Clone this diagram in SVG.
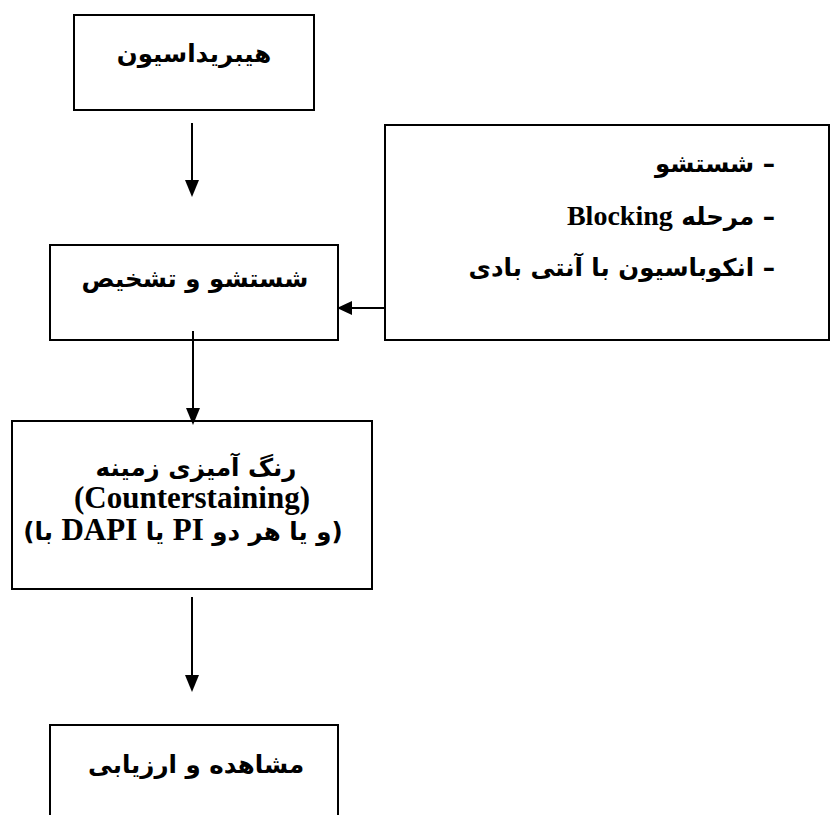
<svg xmlns="http://www.w3.org/2000/svg" width="831" height="815" viewBox="0 0 831 815">
<style>
.box{fill:#fff;stroke:#000;stroke-width:2}
.fa{font-family:"DejaVu Sans","Noto Sans",sans-serif;font-weight:bold;font-size:24.5px;fill:#000}
.en{font-family:"Liberation Serif","Times New Roman",serif;font-weight:bold;fill:#000}
.ln{stroke:#000;stroke-width:2;fill:none}
.ah{fill:#000}
</style>
<rect width="831" height="815" fill="#fff"/>
<g id="n1">
<rect class="box" x="74" y="15" width="240" height="95"/>
<text class="fa" x="194" y="62" text-anchor="middle">هیبریداسیون</text>
</g>
<g id="n2">
<rect class="box" x="50" y="245" width="288" height="95"/>
<text class="fa" x="195" y="287" text-anchor="middle">شستشو و تشخیص</text>
</g>
<g id="n3">
<rect class="box" x="385" y="125" width="444" height="215"/>
<text class="fa" x="775" y="172" direction="rtl" text-anchor="start">– شستشو</text>
<text class="fa" x="775" y="225" direction="rtl" text-anchor="start">– مرحله <tspan class="en" font-size="28">Blocking</tspan></text>
<text class="fa" x="775" y="276" direction="rtl" text-anchor="start">– انکوباسیون با آنتی بادی</text>
</g>
<g id="n4">
<rect class="box" x="12" y="421" width="360" height="168"/>
<text class="fa" x="196" y="476" font-size="27" text-anchor="middle">رنگ آمیزی زمینه</text>
<text class="en" x="192" y="508" font-size="31" text-anchor="middle">(Counterstaining)</text>
<text class="fa" x="183" y="540" font-size="23.5" text-anchor="middle" direction="ltr" unicode-bidi="embed">&#x202A;(با <tspan class="en" font-size="31">DAPI</tspan> یا <tspan class="en" font-size="31">PI</tspan> و یا هر دو)&#x202C;</text>
</g>
<g id="n5">
<rect class="box" x="50" y="725" width="288" height="120"/>
<text class="fa" x="196" y="773" font-size="23.5" text-anchor="middle">مشاهده و ارزیابی</text>
</g>
<g id="connectors">
<line class="ln" x1="192" y1="123" x2="192" y2="182"/>
<polygon class="ah" points="185,180 199,180 192,197"/>
<line class="ln" x1="384" y1="308" x2="350" y2="308"/>
<polygon class="ah" points="352,301 352,315 337,308"/>
<line class="ln" x1="193" y1="331" x2="193" y2="410"/>
<polygon class="ah" points="186,408 200,408 193,425"/>
<line class="ln" x1="192" y1="597" x2="192" y2="677"/>
<polygon class="ah" points="185,675 199,675 192,692"/>
</g>
</svg>
